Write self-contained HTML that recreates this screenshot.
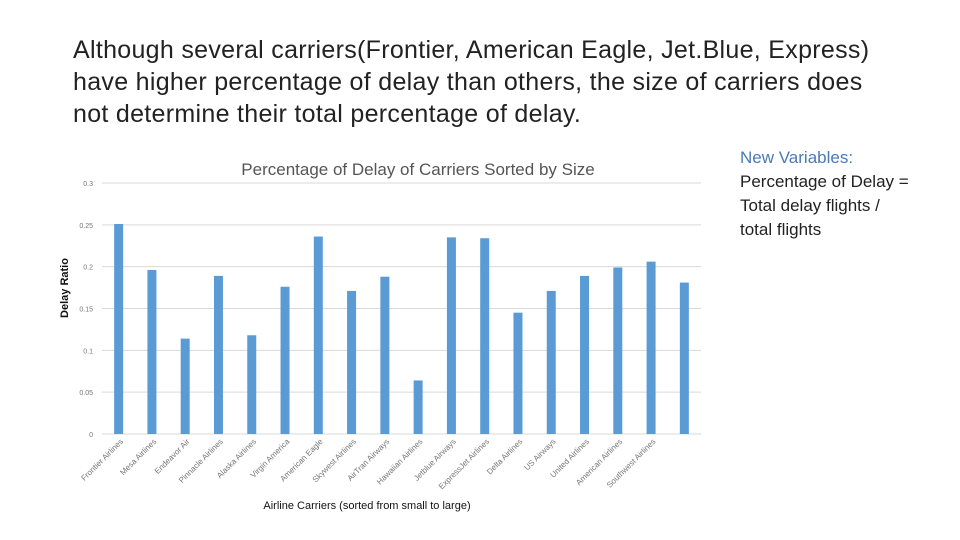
<!DOCTYPE html>
<html><head><meta charset="utf-8"><style>
body{margin:0;width:960px;height:540px;background:#fff;font-family:"Liberation Sans",sans-serif;overflow:hidden;position:relative}
#title{position:absolute;left:73px;top:34px;font-size:25px;line-height:32px;color:#222;width:815px;letter-spacing:0.3px}
#nv{position:absolute;left:740px;top:146px;font-size:17px;line-height:24px;color:#222}
</style></head><body>
<div id="title">Although several carriers(Frontier, American Eagle, Jet.Blue, Express) have higher percentage of delay than others, the size of carriers does not determine their total percentage of delay.</div>
<div id="nv"><span style="color:#4a7ab5">New Variables:</span><br>Percentage of Delay =<br>Total delay flights /<br>total flights</div>
<svg id="c" width="960" height="540" style="position:absolute;left:0;top:0"></svg>
<script>
const categories=["Frontier Airlines","Mesa Airlines","Endeavor Air","Pinnacle Airlines","Alaska Airlines","Virgin America","American Eagle","Skywest Airlines","AirTran Airways","Hawaiian Airlines","Jetblue Airways","ExpressJet Airlines","Delta Airlines","US Airways","United Airlines","American Airlines","Southwest Airlines",""];
const values=[0.251,0.196,0.114,0.189,0.118,0.176,0.236,0.171,0.188,0.064,0.235,0.234,0.145,0.171,0.189,0.199,0.206,0.181];
const ticks=[0,0.05,0.1,0.15,0.2,0.25,0.3];
const tickLabels=["0","0.05","0.1","0.15","0.2","0.25","0.3"];
const NS="http://www.w3.org/2000/svg",svg=document.getElementById('c');
const x0=102,x1=701,y0=434,y1=183;
const y=v=>y0-(v/0.3)*(y0-y1);
const step=(x1-x0)/categories.length;
const x=i=>x0+step*(i+0.5);
function mk(t,a,txt){const e=document.createElementNS(NS,t);for(const k in a)e.setAttribute(k,a[k]);if(txt!==undefined)e.textContent=txt;svg.appendChild(e);return e;}
let e=mk('text',{x:418,y:175,'font-size':17,fill:'#555','text-anchor':'middle'},'Percentage of Delay of Carriers Sorted by Size');


ticks.forEach((t,i)=>{
 const g=mk('line',{x1:x0,x2:x1,y1:y(t),y2:y(t),stroke:'#d9d9d9','stroke-width':1});
 
 
 const l=mk('text',{x:93,y:y(t)+3,'font-size':7,fill:'#777','text-anchor':'end'},tickLabels[i]);
 
 
});
values.forEach((v,i)=>{
 const b=mk('rect',{x:x(i)-4.5,y:y(v),width:9,height:y0-y(v),fill:'#5b9bd5'});
 
 
 if(categories[i]){
  const t=mk('text',{x:x(i)+5,y:y0+8,'font-size':8,fill:'#777','text-anchor':'end',transform:`rotate(-45 ${x(i)+5} ${y0+8})`},categories[i]);
  
  
 }
});
e=mk('text',{x:367,y:509,'font-size':11,fill:'#111','text-anchor':'middle'},'Airline Carriers (sorted from small to large)');


e=mk('text',{x:0,y:0,'font-size':11,'font-weight':'bold',fill:'#111','text-anchor':'middle',transform:'translate(68 288) rotate(-90)'},'Delay Ratio');


</script>
</body></html>
